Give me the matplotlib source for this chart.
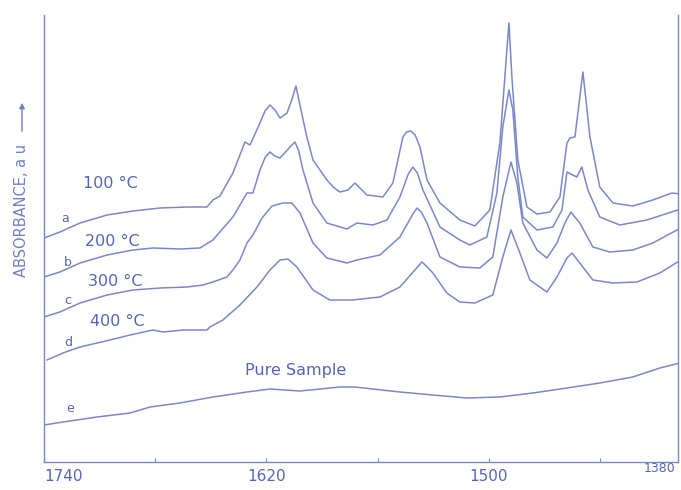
import matplotlib.pyplot as plt
from matplotlib.patches import FancyArrowPatch

# wavenumber (cm-1) and absorbance (a.u.)
wn_100 = [1740, 1731.4, 1720.6, 1706.0, 1692.0, 1677.4, 1662.9, 1652.1, 1648.9, 1645.1,
          1638.1, 1631.6, 1628.9, 1623.5, 1620.8, 1618.1, 1615.4, 1612.7, 1608.9, 1606.2,
          1604.1, 1602.3, 1598.2, 1594.9, 1587.4, 1584.0, 1580.4, 1576.0, 1572.3, 1568.5,
          1565.8, 1557.2, 1551.8, 1546.4, 1544.5, 1542.1, 1539.8, 1537.2, 1533.4, 1526.4,
          1515.7, 1507.6, 1499.5, 1494.1, 1491.4, 1489.2, 1487.6, 1484.4, 1479.5, 1474.1,
          1467.1, 1461.7, 1457.9, 1456.3, 1453.6, 1449.3, 1445.5, 1440.2, 1433.1, 1422.4,
          1411.6, 1401.3, 1396.5]
abs_100 = [2.24, 2.30, 2.39, 2.47, 2.51, 2.54, 2.55, 2.55, 2.62, 2.66,
           2.89, 3.20, 3.17, 3.39, 3.51, 3.57, 3.52, 3.44, 3.49, 3.63,
           3.76, 3.60, 3.25, 3.02, 2.82, 2.75, 2.70, 2.72, 2.79, 2.72,
           2.67, 2.65, 2.79, 3.25, 3.30, 3.31, 3.27, 3.15, 2.82, 2.59,
           2.42, 2.36, 2.52, 3.19, 3.85, 4.39, 3.85, 3.02, 2.55, 2.48,
           2.50, 2.65, 3.19, 3.24, 3.25, 3.90, 3.25, 2.75, 2.59, 2.56,
           2.62, 2.69, 2.68]

wn_200 = [1740, 1731.4, 1720.6, 1706.0, 1692.0, 1681.2, 1666.7, 1655.9, 1648.9, 1638.1,
          1630.5, 1627.3, 1623.5, 1620.6, 1618.1, 1615.5, 1612.7, 1606.8, 1604.6, 1602.6,
          1600.3, 1594.9, 1587.4, 1576.6, 1571.2, 1562.6, 1555.0, 1548.0, 1543.5, 1541.0,
          1538.6, 1535.6, 1526.4, 1515.7, 1510.3, 1501.1, 1495.7, 1492.5, 1489.2, 1487.1,
          1484.4, 1481.7, 1474.1, 1465.5, 1460.6, 1457.9, 1452.6, 1449.9, 1446.6, 1440.2,
          1429.4, 1414.8, 1396.5]
abs_200 = [1.85, 1.90, 1.99, 2.07, 2.12, 2.14, 2.13, 2.14, 2.22, 2.45,
           2.69, 2.69, 2.92, 3.05, 3.10, 3.06, 3.04, 3.16, 3.20, 3.11,
           2.92, 2.59, 2.39, 2.33, 2.39, 2.37, 2.42, 2.65, 2.88, 2.95,
           2.89, 2.72, 2.35, 2.22, 2.17, 2.25, 2.69, 3.35, 3.72, 3.52,
           2.85, 2.45, 2.32, 2.35, 2.52, 2.90, 2.85, 2.95, 2.72, 2.45,
           2.37, 2.42, 2.53]

wn_300 = [1740, 1731.4, 1720.6, 1706.0, 1692.0, 1677.4, 1662.9, 1654.3, 1648.9, 1641.3,
          1638.1, 1634.3, 1630.5, 1627.3, 1622.4, 1617.0, 1611.1, 1606.3, 1601.9, 1594.9,
          1587.4, 1576.6, 1571.2, 1558.8, 1548.0, 1541.0, 1538.8, 1536.5, 1533.4, 1526.4,
          1515.7, 1504.9, 1497.9, 1492.5, 1488.1, 1484.9, 1481.7, 1474.1, 1468.7, 1463.3,
          1459.0, 1455.8, 1451.0, 1443.9, 1434.8, 1422.4, 1411.6, 1396.5]
abs_300 = [1.45, 1.50, 1.59, 1.67, 1.72, 1.74, 1.75, 1.77, 1.80, 1.85,
           1.92, 2.02, 2.19, 2.27, 2.44, 2.56, 2.59, 2.59, 2.49, 2.19,
           2.04, 1.99, 2.02, 2.07, 2.25, 2.48, 2.54, 2.50, 2.39, 2.05,
           1.95, 1.94, 2.05, 2.65, 3.00, 2.79, 2.39, 2.12, 2.04, 2.19,
           2.39, 2.50, 2.39, 2.15, 2.10, 2.12, 2.19, 2.34]

wn_400 = [1738.4, 1729.8, 1720.6, 1704.4, 1693.6, 1681.2, 1675.8, 1665.0, 1652.1, 1650.5,
          1643.5, 1634.3, 1625.1, 1618.1, 1612.7, 1608.4, 1603.6, 1594.9, 1585.8, 1573.4,
          1558.8, 1548.0, 1538.5, 1536.1, 1533.8, 1530.2, 1522.7, 1515.7, 1507.6, 1497.9,
          1492.5, 1488.1, 1483.3, 1477.9, 1468.7, 1463.3, 1457.9, 1455.2, 1451.0, 1443.9,
          1433.1, 1420.2, 1407.8, 1396.5]
abs_400 = [1.02, 1.09, 1.15, 1.22, 1.27, 1.32, 1.30, 1.32, 1.32, 1.35,
           1.42, 1.57, 1.75, 1.92, 2.02, 2.03, 1.95, 1.72, 1.62, 1.62,
           1.65, 1.75, 1.95, 2.00, 1.96, 1.89, 1.69, 1.60, 1.59, 1.67,
           2.05, 2.32, 2.09, 1.82, 1.70, 1.85, 2.04, 2.09, 1.99, 1.82,
           1.79, 1.80, 1.89, 2.02]

wn_pure = [1740, 1729.8, 1711.4, 1693.6, 1682.8, 1666.7, 1648.9, 1630.5, 1618.1, 1601.9,
           1580.4, 1572.3, 1548.0, 1530.2, 1511.9, 1494.1, 1476.3, 1457.9, 1440.2, 1422.4,
           1407.8, 1397.0]
abs_pure = [0.37, 0.40, 0.45, 0.49, 0.55, 0.59, 0.65, 0.70, 0.73, 0.71,
            0.75, 0.75, 0.70, 0.67, 0.64, 0.65, 0.69, 0.74, 0.79, 0.85,
            0.94, 0.99]

temp_labels = ["100 °C", "200 °C", "300 °C", "400 °C", "Pure Sample"]
letters = ["a", "b", "c", "d", "e"]
xticks = [1740, 1680, 1620, 1560, 1500, 1440]
xtick_labels = ["1740", "", "1620", "", "1500", ""]

line_col = "#7a88c8"
text_col = "#5565b5"


def main():
    fig = plt.figure(figsize=(6.81, 4.90), dpi=100)
    ax = fig.add_axes([44 / 681, 28 / 490, 634 / 681, 447 / 490])

    curves = [(wn_100, abs_100), (wn_200, abs_200), (wn_300, abs_300),
              (wn_400, abs_400), (wn_pure, abs_pure)]
    for wn, ab in curves:
        ax.plot(wn, ab, color=line_col, lw=1.1, solid_joinstyle="round",
                solid_capstyle="round")

    ax.set_xlim(1740, 1398)
    ax.set_ylim(0, 4.47)
    ax.set_yticks([])
    ax.set_xticks(xticks)
    ax.set_xticklabels(xtick_labels)
    ax.tick_params(axis="x", direction="in", length=3, width=0.8,
                   color=line_col, labelcolor=text_col, labelsize=11, pad=5)
    ax.get_xticklabels()[0].set_horizontalalignment("left")
    for side in ["left", "bottom", "right"]:
        ax.spines[side].set_color(line_col)
        ax.spines[side].set_linewidth(1.0)
    ax.spines["top"].set_visible(False)

    # curve labels
    label_pos = [(1719, 2.79), (1718, 2.21), (1716.3, 1.80), (1715.2, 1.40), (1631.6, 0.92)]
    letter_pos = [(1728.7, 2.44), (1727.1, 2.00), (1727.1, 1.62), (1727.1, 1.20), (1726.0, 0.54)]
    for txt, (x, y) in zip(temp_labels, label_pos):
        ax.text(x, y, txt, color=text_col, fontsize=11.5, va="center", ha="left")
    for txt, (x, y) in zip(letters, letter_pos):
        ax.text(x, y, txt, color=text_col, fontsize=9, va="center", ha="center")

    # "1380" label at the right edge
    fig.text(644 / 681, 1 - 468 / 490, "1380", color=text_col, fontsize=9,
             va="center", ha="left")

    # y axis label with arrow
    fig.text(22 / 681, 1 - 210 / 490, "ABSORBANCE, a u", rotation=90,
             color="#7080c0", fontsize=10.5, va="center", ha="center")
    fig.patches.append(FancyArrowPatch(
        (22 / 681, 1 - 134 / 490), (22 / 681, 1 - 100 / 490),
        transform=fig.transFigure, arrowstyle="-|>", mutation_scale=8,
        color="#7080c0", lw=1))

    fig.savefig("out.png", dpi=100)


if __name__ == "__main__":
    main()
